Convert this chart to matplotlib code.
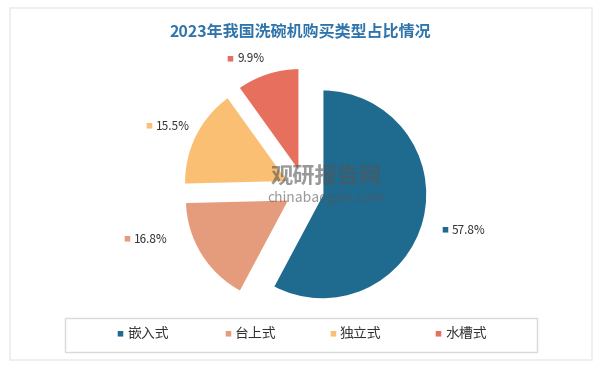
import numpy as np
import matplotlib.pyplot as plt
from matplotlib.patches import Rectangle

plt.rcParams['font.family'] = ['Noto Sans CJK SC', 'DejaVu Sans']

# data
categories = ['嵌入式', '台上式', '独立式', '水槽式']
shares = [57.8, 16.8, 15.5, 9.9]
colors = ['#1f6a8f', '#e59c7c', '#fbbf74', '#e76f5d']
title = '2023年我国洗碗机购买类型占比情况'

fig = plt.figure(figsize=(6.0, 3.68), dpi=100)
fig.patch.set_facecolor('white')

# faint outer panel
fig.add_artist(Rectangle((10 / 600, 8 / 368), 582 / 600, 352 / 368,
                         transform=fig.transFigure, fill=False,
                         edgecolor='#ececec', linewidth=1.2))

fig.text(0.5, 0.915, title, ha='center', va='center', fontsize=11.5,
         fontweight='bold', color='#2f74ab')

# pie axes: centre ~(305,190) px, radius ~105 px
r_px = 105
cx, cy = 305, 190
size = 2 * r_px * 1.3
ax = fig.add_axes([(cx - size / 2) / 600, 1 - (cy + size / 2) / 368,
                   size / 600, size / 368])
wedges, _ = ax.pie(shares, colors=colors, startangle=90, counterclock=False,
                   explode=[0.17] * 4, radius=1.0,
                   wedgeprops=dict(edgecolor='white', linewidth=1.6))
ax.set_xlim(-1.3, 1.3)
ax.set_ylim(-1.3, 1.3)
ax.set_aspect('equal')
ax.axis('off')

# watermark
fig.text(326 / 600, 1 - 177 / 368, '观研报告网', ha='center', va='center',
         fontsize=16, fontweight='bold', color='#555555', alpha=0.6)
fig.text(326 / 600, 1 - 198 / 368, 'chinabaogao.com', ha='center',
         va='center', fontsize=10, color='#555555', alpha=0.6)

# data labels (figure pixel positions of the marker)
label_pos = [(445, 230), (127, 239), (149, 126), (230, 59)]
for (px, py), val, col in zip(label_pos, shares, colors):
    fig.text(px / 600, 1 - py / 368, '■', color=col, fontsize=5,
             ha='center', va='center')
    fig.text((px + 7) / 600, 1 - py / 368, f'{val}%', color='#333333',
             fontsize=8.5, ha='left', va='center')

# legend box
fig.add_artist(Rectangle((65 / 600, 1 - 352 / 368), 472 / 600, 34 / 368,
                         transform=fig.transFigure, fill=False,
                         edgecolor='#d9d9d9', linewidth=1.0))
leg_x = [120, 228, 333, 438]
for lx, cat, col in zip(leg_x, categories, colors):
    fig.text(lx / 600, 1 - 334 / 368, '■', color=col, fontsize=5,
             ha='center', va='center')
    fig.text((lx + 7) / 600, 1 - 334 / 368, cat, color='#333333',
             fontsize=10, ha='left', va='center')

fig.savefig('out.png', dpi=100, facecolor='white')
